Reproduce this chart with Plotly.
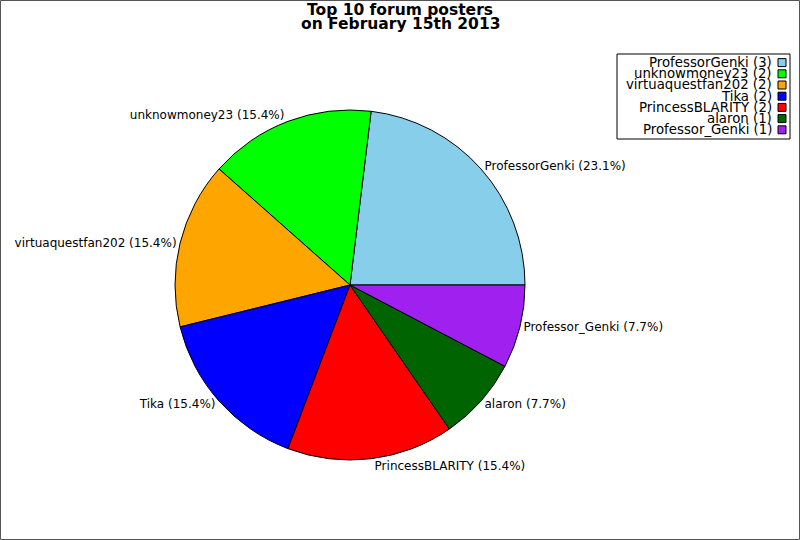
import plotly.graph_objects as go

names = ["ProfessorGenki", "unknowmoney23", "virtuaquestfan202", "Tika",
         "PrincessBLARITY", "alaron", "Professor_Genki"]
posts = [3, 2, 2, 2, 2, 1, 1]
colors = ["#87ceeb", "#00ff00", "#ffa500", "#0000ff", "#ff0000", "#006400", "#a020f0"]
title_lines = ["Top 10 forum posters", "on February 15th 2013"]

# first slice should start at 3 o'clock and run counterclockwise
first_angle = 360 * posts[0] / sum(posts)

fig = go.Figure()

fig.add_trace(go.Pie(
    labels=names,
    values=posts,
    marker=dict(colors=colors, line=dict(color="black", width=1)),
    sort=False,
    direction="counterclockwise",
    rotation=90 - first_angle,
    textposition="outside",
    texttemplate="%{label} (%{percent:.1%})",
    textfont=dict(family="DejaVu Sans", size=12, color="black"),
    domain=dict(x=[0.1, 0.775], y=[80 / 540, 430 / 540]),
    showlegend=False,
    hoverinfo="label+value+percent",
))

# legend drawn by hand so swatches sit on the right side like the original
shapes = [dict(type="rect", xref="paper", yref="paper", x0=0.5 / 800, x1=799.5 / 800,
               y0=0.5 / 540, y1=539.5 / 540, line=dict(color="#555555", width=1))]
annotations = []
top = 1 - 57 / 540
step = 11.2 / 540
for i, (n, v, c) in enumerate(zip(names, posts, colors)):
    yc = top - (i + 0.5) * step
    annotations.append(dict(
        x=774 / 800, y=yc, xref="paper", yref="paper", xanchor="right", yanchor="middle",
        text=f"{n} ({v})", showarrow=False,
        font=dict(family="DejaVu Sans", size=13.3, color="black"),
    ))
    shapes.append(dict(type="rect", xref="paper", yref="paper",
                       x0=778 / 800, x1=786 / 800, y0=yc - 4 / 540, y1=yc + 4 / 540,
                       fillcolor=c, line=dict(color="black", width=1)))
shapes.append(dict(type="rect", xref="paper", yref="paper",
                   x0=617 / 800, x1=790 / 800, y0=1 - 139 / 540, y1=1 - 54 / 540,
                   line=dict(color="black", width=1)))

# title as two tight lines (plotly's <br> spacing is too loose)
for i, line in enumerate(title_lines):
    annotations.append(dict(
        x=0.5, y=1 - (10 + 14 * i) / 540, xref="paper", yref="paper",
        xanchor="center", yanchor="middle", text=f"<b>{line}</b>", showarrow=False,
        font=dict(family="DejaVu Sans", size=15.5, color="black"),
    ))

fig.update_layout(
    width=800, height=540,
    margin=dict(l=0, r=0, t=0, b=0, autoexpand=False),
    paper_bgcolor="white", plot_bgcolor="white",
    font=dict(family="DejaVu Sans", size=12, color="black"),
    shapes=shapes,
    annotations=annotations,
)

fig.write_html("out.html", config={"displayModeBar": False},
               post_script="document.body.style.margin='0px';")
